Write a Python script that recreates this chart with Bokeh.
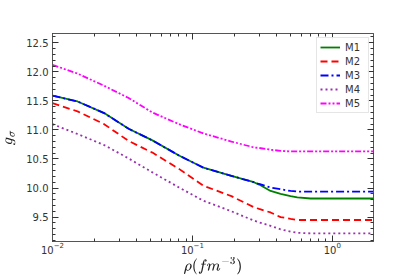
from bokeh.plotting import figure
from bokeh.models import (Range1d, LinearAxis, LogAxis, SingleIntervalTicker,
                          LogTicker, Legend, LegendItem, NumeralTickFormatter)
from bokeh.embed import file_html
from bokeh.resources import INLINE

rho = [0.01, 0.0151, 0.0234, 0.035, 0.0518, 0.0802, 0.12, 0.19, 0.275, 0.30,
       0.362, 0.427, 0.503, 0.562, 0.70, 2.0]
m1 = [11.59, 11.49, 11.29, 11.02, 10.82, 10.56, 10.35, 10.21, 10.10, 10.06,
      9.95, 9.90, 9.86, 9.84, 9.82, 9.82]
m2 = [11.46, 11.32, 11.10, 10.81, 10.61, 10.33, 10.04, 9.86, 9.67, 9.64,
      9.58, 9.50, 9.47, 9.45, 9.45, 9.45]
m3 = [11.59, 11.49, 11.29, 11.02, 10.82, 10.56, 10.35, 10.21, 10.10, 10.07,
      10.01, 9.98, 9.95, 9.94, 9.94, 9.94]
m4 = [11.10, 10.93, 10.74, 10.51, 10.27, 10.01, 9.78, 9.60, 9.44, 9.41,
      9.35, 9.29, 9.25, 9.23, 9.22, 9.22]
m5 = [12.12, 11.97, 11.76, 11.55, 11.30, 11.10, 10.94, 10.80, 10.70, 10.69,
      10.66, 10.64, 10.63, 10.63, 10.63, 10.63]

names = ["M1", "M2", "M3", "M4", "M5"]
series = [m1, m2, m3, m4, m5]
colors = ["green", "red", "blue", "#9a30b0", "magenta"]
dashes = ["solid", "7 4", "8 3 2 3", "2 3", "6 2 2 2 2 2"]

p = figure(width=415, height=277, x_axis_type="log", output_backend="svg",
           toolbar_location=None, x_range=Range1d(0.01, 1.97), y_range=Range1d(9.08, 12.66),
           min_border_left=52, min_border_right=42, min_border_top=33, min_border_bottom=35)
p.grid.visible = False
p.outline_line_color = "#555555"

items = []
for n, s, c, d in zip(names, series, colors, dashes):
    r = p.line(rho, s, line_color=c, line_width=1.8, line_dash=d)
    items.append(LegendItem(label=n, renderers=[r]))

bottom = p.below[0]
left = p.left[0]
left.ticker = SingleIntervalTicker(interval=0.5, num_minor_ticks=5)
left.formatter = NumeralTickFormatter(format="0.0")
bottom.ticker = LogTicker(num_minor_ticks=10)

right = LinearAxis(ticker=SingleIntervalTicker(interval=0.5, num_minor_ticks=5))
top = LogAxis(ticker=LogTicker(num_minor_ticks=10))
p.add_layout(right, "right")
p.add_layout(top, "above")

for ax in [bottom, left, right, top]:
    ax.major_tick_in = 6
    ax.major_tick_out = 0
    ax.minor_tick_in = 3
    ax.minor_tick_out = 0
    ax.axis_line_color = "#555555"
    ax.major_tick_line_color = "#333333"
    ax.minor_tick_line_color = "#333333"
    ax.major_label_text_font = "DejaVu Sans"
    ax.major_label_text_font_size = "10px"
    ax.major_label_text_color = "#333333"
    ax.major_label_standoff = 4

for ax in [right, top]:
    ax.major_label_text_font_size = "0px"
    ax.major_label_text_color = None
    ax.major_label_standoff = 0

bottom.major_label_standoff = 0
left.axis_label = r"$$g_\sigma$$"
bottom.axis_label = r"$$\rho(fm^{-3})$$"
for ax in [bottom, left]:
    ax.axis_label_text_font_size = "12px"
    ax.axis_label_standoff = 4
    ax.axis_label_text_color = "#222222"
bottom.axis_label_standoff = 0

legend = Legend(items=items, location="top_right")
legend.label_text_font = "DejaVu Sans"
legend.label_text_font_size = "10px"
legend.label_text_color = "#333333"
legend.glyph_width = 20
legend.glyph_height = 12
legend.label_height = 12
legend.label_standoff = 5
legend.spacing = 2
legend.padding = 3
legend.margin = 4
legend.border_line_color = "#cccccc"
legend.background_fill_alpha = 0.9
p.add_layout(legend)

open("out.html", "w").write(file_html(p, INLINE))
